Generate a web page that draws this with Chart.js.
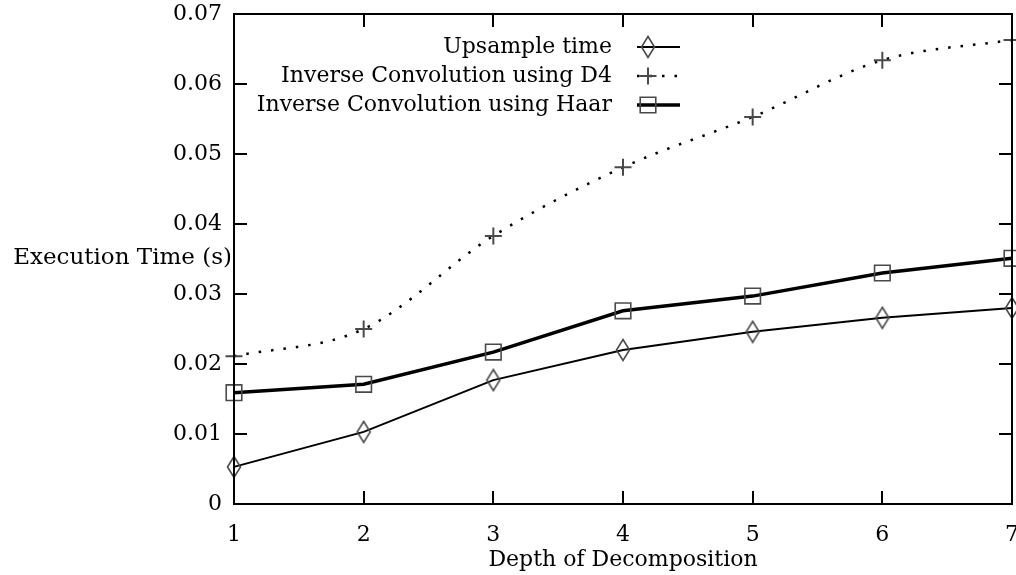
<!DOCTYPE html>
<html>
<head>
<meta charset="utf-8">
<script src="https://cdn.jsdelivr.net/npm/chart.js@4.4.1/dist/chart.umd.min.js"></script>
<style>
  html, body { margin: 0; padding: 0; background: #fff; }
  #wrap { width: 1016px; height: 575px; }
</style>
</head>
<body>
<div id="wrap"><canvas id="c"></canvas></div>
<script>
// ── Données ───────────────────────────────────────────────────
const DEPTHS = [1, 2, 3, 4, 5, 6, 7];
const UPSAMPLE = [0.0053, 0.0103, 0.0177, 0.0220, 0.0246, 0.0266, 0.0280];
const CONV_D4 = [0.0211, 0.0250, 0.0383, 0.0481, 0.0553, 0.0634, 0.0663];
const CONV_HAAR = [0.0159, 0.0171, 0.0217, 0.0276, 0.0297, 0.0330, 0.0351];
const LABELS = ['Upsample time', 'Inverse Convolution using D4', 'Inverse Convolution using Haar'];
const Y_TICKS = [0, 0.01, 0.02, 0.03, 0.04, 0.05, 0.06, 0.07];
const X_TICK_LABELS = ['1', '2', '3', '4', '5', '6', '7'];
const Y_TICK_LABELS = ['0', '0.01', '0.02', '0.03', '0.04', '0.05', '0.06', '0.07'];

const FONT = '"DejaVu Serif", "Liberation Serif", serif';
const MARK = '#4a4a4a';

// Losange allongé (comme gnuplot)
function makeDiamond() {
  const cv = document.createElement('canvas');
  cv.width = 16; cv.height = 24;
  const g = cv.getContext('2d');
  g.beginPath();
  g.moveTo(8, 1.5); g.lineTo(14.5, 12); g.lineTo(8, 22.5); g.lineTo(1.5, 12); g.closePath();
  g.strokeStyle = MARK; g.lineWidth = 1.6; g.stroke();
  return cv;
}
const diamond = makeDiamond();

const pts = arr => DEPTHS.map((d, i) => ({ x: d, y: arr[i] }));

// Cadre, graduations intérieures, libellés et légende
const framePlugin = {
  id: 'frame',
  afterDatasetsDraw(chart) {
    const { ctx, chartArea: a, scales } = chart;
    const L = 13;
    ctx.save();
    ctx.strokeStyle = '#000';
    ctx.lineWidth = 2;
    ctx.beginPath();
    DEPTHS.forEach(d => {
      const x = Math.round(scales.x.getPixelForValue(d));
      ctx.moveTo(x, a.bottom); ctx.lineTo(x, a.bottom - L);
      ctx.moveTo(x, a.top); ctx.lineTo(x, a.top + L);
    });
    Y_TICKS.forEach(v => {
      const y = Math.round(scales.y.getPixelForValue(v));
      ctx.moveTo(a.left, y); ctx.lineTo(a.left + L, y);
      ctx.moveTo(a.right, y); ctx.lineTo(a.right - L, y);
    });
    ctx.stroke();
    ctx.strokeRect(a.left, a.top, a.right - a.left, a.bottom - a.top);
    ctx.restore();
  },
  afterDraw(chart) {
    const { ctx, chartArea: a, scales } = chart;
    ctx.save();
    ctx.fillStyle = '#000';
    ctx.font = '22px ' + FONT;
    ctx.textBaseline = 'middle';

    // libellés des graduations
    ctx.textAlign = 'right';
    Y_TICKS.forEach((v, i) => ctx.fillText(Y_TICK_LABELS[i], 222, scales.y.getPixelForValue(v)));
    ctx.textAlign = 'center';
    DEPTHS.forEach((d, i) => ctx.fillText(X_TICK_LABELS[i], scales.x.getPixelForValue(d), 535));

    // titres des axes
    ctx.fillText('Depth of Decomposition', (a.left + a.right) / 2, 560);
    ctx.textAlign = 'right';
    ctx.font = '23px ' + FONT;
    ctx.fillText('Execution Time (s)', a.left - 2, 258);

    // légende : texte aligné à droite, échantillon à droite
    ctx.font = '22px ' + FONT;
    const rows = [47, 76, 105];
    chart.data.datasets.forEach((ds, i) => {
      const y = rows[i];
      ctx.textAlign = 'right';
      ctx.fillStyle = '#000';
      ctx.fillText(ds.label, 612, y);
      ctx.beginPath();
      ctx.strokeStyle = '#000';
      ctx.lineWidth = ds.borderWidth;
      ctx.setLineDash(ds.borderDash || []);
      ctx.moveTo(637, y); ctx.lineTo(680, y);
      ctx.stroke();
      ctx.setLineDash([]);
      ctx.strokeStyle = MARK;
      ctx.fillStyle = 'rgba(0,0,0,0)';
      ctx.lineWidth = ds.pointBorderWidth;
      Chart.helpers.drawPoint(ctx, {
        pointStyle: ds.pointStyle, radius: ds.pointRadius, borderWidth: ds.pointBorderWidth, rotation: 0
      }, 648, y);
    });
    ctx.restore();
  }
};

new Chart(document.getElementById('c'), {
  type: 'line',
  plugins: [framePlugin],
  data: {
    datasets: [
      {
        label: LABELS[0],
        data: pts(UPSAMPLE),
        borderColor: '#000',
        borderWidth: 2,
        tension: 0,
        pointStyle: diamond,
        pointRadius: 10,
        pointBorderColor: MARK,
        pointBorderWidth: 1.6,
        pointBackgroundColor: 'rgba(0,0,0,0)',
      },
      {
        label: LABELS[1],
        data: pts(CONV_D4),
        borderColor: '#000',
        borderWidth: 2.5,
        borderDash: [2.5, 10],
        borderCapStyle: 'butt',
        cubicInterpolationMode: 'monotone',
        pointStyle: 'cross',
        pointRadius: 8.5,
        pointBorderColor: MARK,
        pointBorderWidth: 2,
      },
      {
        label: LABELS[2],
        data: pts(CONV_HAAR),
        borderColor: '#000',
        borderWidth: 3.5,
        tension: 0,
        pointStyle: 'rect',
        pointRadius: 11,
        pointBorderColor: MARK,
        pointBorderWidth: 1.6,
        pointBackgroundColor: 'rgba(0,0,0,0)',
      },
    ],
  },
  options: {
    responsive: true,
    maintainAspectRatio: false,
    animation: false,
    clip: false,
    layout: { autoPadding: false, padding: { top: 14, right: 4, left: 0, bottom: 0 } },
    plugins: {
      legend: { display: false },
      tooltip: { enabled: false },
    },
    scales: {
      x: {
        type: 'linear',
        min: 1,
        max: 7,
        grid: { display: false, drawTicks: false },
        border: { display: false },
        ticks: { display: false },
        afterFit: s => { s.height = 71; },
      },
      y: {
        type: 'linear',
        min: 0,
        max: 0.07,
        grid: { display: false, drawTicks: false },
        border: { display: false },
        ticks: { display: false },
        afterFit: s => { s.width = 234; },
      },
    },
  },
});
</script>
</body>
</html>
